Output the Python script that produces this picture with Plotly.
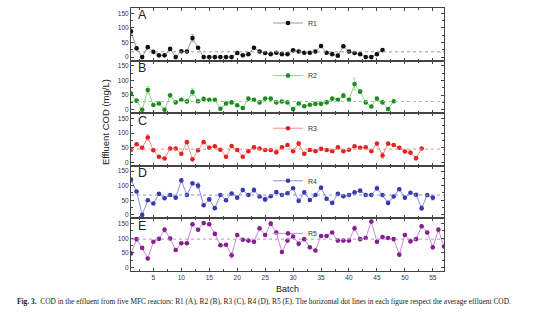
import plotly.graph_objects as go
from plotly.subplots import make_subplots

batch_r1 = list(range(1, 47))
cod_r1 = [88, 30, 0, 34, 18, 6, 6, 28, 0, 20, 19, 65, 32, 0, 0, 0, 0, 0, 0, 14,
          6, 10, 32, 19, 14, 10, 15, 10, 10, 23, 19, 15, 15, 19, 38, 15, 10, 5, 37, 19,
          14, 10, 0, 0, 10, 24]
batch_r2 = list(range(1, 49))
cod_r2 = [55, 31, 0, 67, 16, 21, 0, 49, 25, 34, 28, 60, 29, 37, 34, 34, 3, 21, 25, 15,
          6, 38, 34, 25, 38, 38, 25, 28, 25, 2, 21, 12, 17, 20, 20, 25, 38, 34, 48, 34,
          88, 62, 25, 11, 38, 25, 2, 29]
batch_r3 = list(range(1, 54))
cod_r3 = [43, 62, 50, 85, 41, 19, 13, 47, 47, 29, 69, 10, 41, 69, 50, 55, 43, 19, 56, 42,
          19, 38, 51, 47, 42, 42, 34, 51, 59, 38, 64, 29, 42, 38, 46, 42, 38, 51, 38, 43,
          55, 50, 51, 38, 64, 23, 64, 59, 50, 37, 33, 14, 47]
batch_r4 = list(range(1, 56))
cod_r4 = [120, 80, 0, 50, 39, 72, 57, 68, 59, 118, 68, 108, 100, 33, 53, 23, 68, 50, 73, 59,
          85, 68, 85, 63, 53, 64, 78, 68, 74, 91, 48, 77, 51, 68, 93, 55, 41, 72, 64, 68,
          77, 83, 68, 68, 91, 68, 41, 63, 88, 59, 76, 69, 23, 68, 59]
batch_r5 = list(range(1, 58))
cod_r5 = [48, 97, 67, 31, 88, 98, 129, 99, 60, 83, 83, 148, 129, 152, 148, 115, 76, 78, 42, 111,
          95, 92, 88, 134, 111, 150, 120, 53, 92, 106, 81, 97, 69, 58, 108, 108, 120, 92, 92, 92,
          134, 97, 101, 157, 88, 104, 101, 97, 44, 111, 90, 97, 141, 120, 69, 129, 72]

err_default = [4, 4, 4, 4, 4]
err_big = [
    {1: 14, 12: 12, 35: 6, 39: 6},
    {1: 8, 4: 12, 12: 12, 39: 8, 41: 20, 42: 6},
    {4: 10, 31: 7, 46: 10, 52: 6},
    {1: 8, 10: 6, 13: 10, 21: 6, 23: 8, 25: 8, 35: 7, 45: 8, 47: 6, 53: 8, 55: 8},
    {7: 8, 12: 6, 19: 10, 26: 8, 31: 8, 41: 8, 44: 5, 51: 8, 53: 6, 56: 8},
]

averages = [18, 28, 45, 68, 97]
names = ["R1", "R2", "R3", "R4", "R5"]
letters = ["A", "B", "C", "D", "E"]
x_ticks = [5, 10, 15, 20, 25, 30, 35, 40, 45, 50, 55]
y_ticks = [0, 50, 100, 150]

marker_colors = ["#111111", "#1f8a1f", "#e3231f", "#3b3ba8", "#86208f"]
line_colors = ["#9a9a9a", "#8fd18f", "#f28c8a", "#8e8ee0", "#c98bd6"]
err_colors = ["#b5b5b5", "#a8dca8", "#f5a8a6", "#aeaee8", "#d8aee0"]

batches = [batch_r1, batch_r2, batch_r3, batch_r4, batch_r5]
values = [cod_r1, cod_r2, cod_r3, cod_r4, cod_r5]

W, H = 554, 324
ml, mr, mt, mb = 131, 110, 8, 53
pw, ph = W - ml - mr, H - mt - mb

fig = make_subplots(rows=5, cols=1, shared_xaxes=True, vertical_spacing=0)

for i in range(5):
    errs = [err_big[i].get(b, err_default[i]) for b in batches[i]]
    leg = "legend" if i == 0 else f"legend{i + 1}"
    fig.add_trace(go.Scatter(
        x=batches[i], y=values[i], mode="lines+markers", name=names[i],
        line=dict(color=line_colors[i], width=1),
        marker=dict(color=marker_colors[i], size=4.6),
        error_y=dict(type="data", array=errs, color=err_colors[i], thickness=1, width=1.5),
        legend=leg, showlegend=True,
    ), row=i + 1, col=1)
    fig.add_hline(y=averages[i], line=dict(color=line_colors[i], width=1, dash="dot"),
                  row=i + 1, col=1)

axis_common = dict(showline=True, mirror="allticks", linecolor="#444", linewidth=1,
                   ticks="inside", ticklen=3, tickcolor="#444", showgrid=False, zeroline=False,
                   tickfont=dict(family="Liberation Sans, Arial", size=6.5, color="#333"))

for i in range(5):
    fig.update_yaxes(range=[-12, 168], tickvals=y_ticks,
                     minor=dict(ticks="inside", ticklen=2, tickcolor="#444", dtick=25),
                     row=i + 1, col=1, **axis_common)
    fig.update_xaxes(range=[1, 57], tickvals=x_ticks,
                     minor=dict(ticks="inside", ticklen=2, tickcolor="#444", dtick=2.5, tick0=0),
                     row=i + 1, col=1, **axis_common)

layout_legends = {}
for i in range(5):
    top_px = mt + i * ph / 5.0
    key = "legend" if i == 0 else f"legend{i + 1}"
    layout_legends[key] = dict(
        x=(268 - ml) / pw, y=(H - mb - (top_px + 0.5)) / ph, xanchor="left", yanchor="top",
        bgcolor="rgba(0,0,0,0)", borderwidth=0,
        font=dict(family="Liberation Sans, Arial", size=7, color="#333"),
        itemwidth=30, tracegroupgap=0,
    )

annotations = []
for i in range(5):
    xr = "x domain" if i == 0 else f"x{i + 1} domain"
    yr = "y domain" if i == 0 else f"y{i + 1} domain"
    annotations.append(dict(text=letters[i], xref=xr, yref=yr, x=0.015, y=1.03,
                            xanchor="left", yanchor="top", showarrow=False,
                            font=dict(family="Liberation Sans, Arial", size=12.5, color="#222")))

annotations.append(dict(text="Effluent COD (mg/L)", xref="paper", yref="paper",
                        x=(105 - ml) / pw, y=(H - mb - 122) / ph, textangle=-90,
                        showarrow=False, xanchor="center", yanchor="middle",
                        font=dict(family="Liberation Sans, Arial", size=9.5, color="#222")))
annotations.append(dict(text="Batch", xref="paper", yref="paper",
                        x=0.5, y=(H - mb - 289) / ph, showarrow=False,
                        xanchor="center", yanchor="middle",
                        font=dict(family="Liberation Sans, Arial", size=9, color="#222")))
annotations.append(dict(text="<b>Fig. 3.</b>  COD in the effluent from five MFC reactors: R1 (A), R2 (B), R3 (C), R4 (D), R5 (E). The horizontal dot lines in each figure respect the average effluent COD.",
                        xref="paper", yref="paper",
                        x=(15 - ml) / pw, y=(H - mb - 301) / ph, showarrow=False,
                        xanchor="left", yanchor="middle",
                        font=dict(family="Liberation Serif, Times New Roman", size=7.4, color="#222")))

fig.update_layout(width=W, height=H, margin=dict(l=ml, r=mr, t=mt, b=mb),
                  paper_bgcolor="white", plot_bgcolor="white",
                  annotations=annotations, **layout_legends)

fig.write_html("out.html")
